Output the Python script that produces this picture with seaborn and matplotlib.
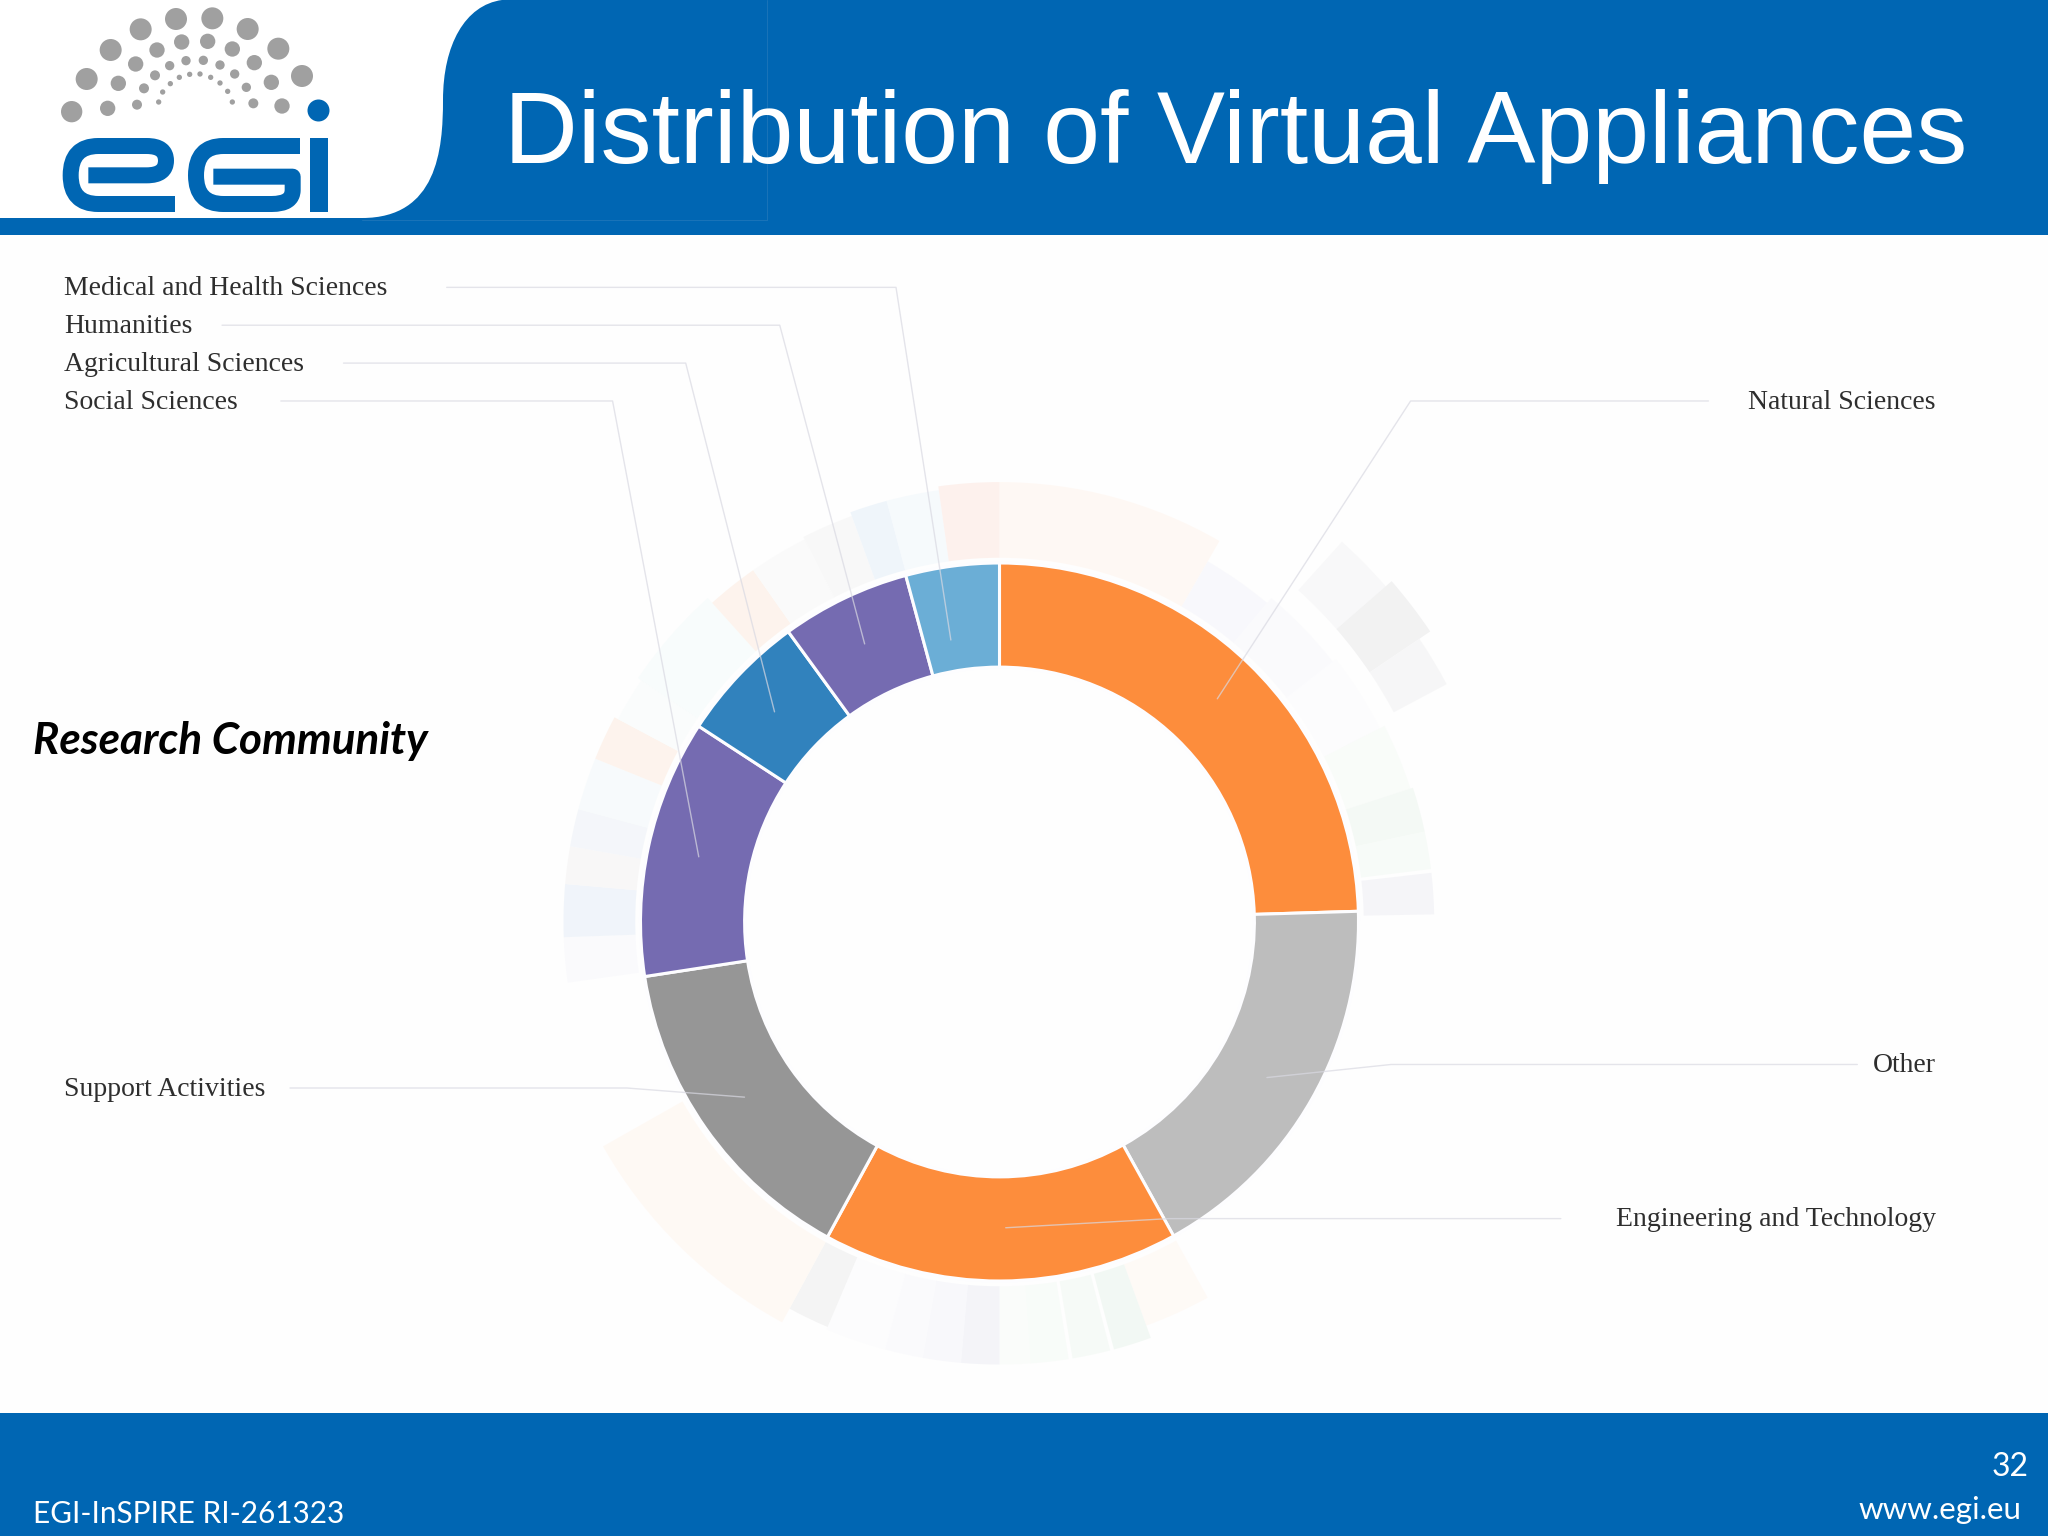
import numpy as np
import matplotlib
matplotlib.use("Agg")
import matplotlib.pyplot as plt
from matplotlib.patches import Rectangle, PathPatch
from matplotlib.path import Path
import seaborn as sns

# ---------- data ----------
categories = ["Natural Sciences", "Other", "Engineering and Technology", "Support Activities",
              "Social Sciences", "Agricultural Sciences", "Humanities", "Medical and Health Sciences"]
shares = [24.5, 17.4, 16.0, 14.6, 11.6, 5.8, 5.8, 4.2]
ring_colors = ["#fd8d3c", "#bdbdbd", "#fd8d3c", "#969696", "#756bb1", "#3182bd", "#756bb1", "#6baed6"]

# faint outer ring (hidden drill-down level): start angle, span, length, colour
sub_start = [0, 30, 40, 52, 63, 72, 78, 83.5,
             151, 160, 165.5, 171, 176, 180, 185, 190, 195, 203,
             208.5, 262, 268, 275, 280, 285, 292, 298,
             304, 318, 325, 333, 340, 345, 352]
sub_span = [30, 10, 12, 11, 9, 6, 5, 5.5,
            9, 5, 5, 5, 4, 5, 5, 5, 8, 5.5,
            32, 6, 7, 5, 5, 7, 6, 6,
            14, 7, 8, 7, 5, 7, 8]
sub_len = [58, 40, 45, 48, 52, 54, 54, 54,
           50, 60, 60, 60, 60, 60, 60, 60, 60, 58,
           70, 55, 55, 55, 55, 55, 55, 52,
           55, 50, 50, 52, 55, 55, 58]
sub_col = ["#fef6ef", "#f6f6fb", "#f9f9fc", "#fbfbfd", "#f7fbf7", "#f0f7f1", "#f4faf5", "#f1f1f6",
           "#fef8f3", "#edf6ef", "#f3f9f4", "#f6fbf7", "#f9fcf9", "#eff0f6", "#f5f5fa", "#f9f9fc", "#fbfbfd", "#efefef",
           "#fef7f0", "#f8f8fc", "#e9f0f8", "#f6f4f4", "#eff3f8", "#f4f9fb", "#fdeee4", "#f8fcfc",
           "#f5fbfb", "#fdeee4", "#f9f9f9", "#f6f6f6", "#e8f1f9", "#f2f8fc", "#fdebe5"]
top_start = [42, 49, 56]
top_span = [7, 7, 6]
top_len = [50, 56, 46]
top_col = ["#f6f6f7", "#ededee", "#f4f4f5"]

label_names = ["Medical and Health Sciences", "Humanities", "Agricultural Sciences", "Social Sciences",
               "Natural Sciences", "Other", "Engineering and Technology", "Support Activities"]
title_text = "Distribution of Virtual Appliances"
side_text = "Research Community"
footer_left = "EGI-InSPIRE RI-261323"
footer_right = "www.egi.eu"
page_number = "32"

BLUE = "#0066b3"
W, H = 2048, 1536
CX, CY, R = 999.5, 922.0, 359.0

sns.set_theme(style="white")
plt.rcParams["font.family"] = ["Liberation Sans", "DejaVu Sans"]

fig = plt.figure(figsize=(W / 100, H / 100), dpi=100, facecolor="#fefefe")


def place(half):
    return [(CX - half) / W, 1 - (CY + half) / H, 2 * half / W, 2 * half / H]


# faint drill-down ring
RMAX = 440.0
pax = fig.add_axes(place(R * RMAX / 275.0), projection="polar")
pax.set_theta_zero_location("N")
pax.set_theta_direction(-1)
pax.bar(np.radians(sub_start), sub_len, width=np.radians(sub_span), bottom=279,
        align="edge", color=sub_col, linewidth=0, alpha=0.65)
pax.bar(np.radians(top_start), top_len, width=np.radians(top_span), bottom=342,
        align="edge", color=top_col, linewidth=0, alpha=0.7)
pax.set_ylim(0, RMAX)
pax.set_axis_off()
pax.patch.set_alpha(0)

# main ring
ax = fig.add_axes(place(R))
ax.pie(shares, colors=ring_colors, startangle=90, counterclock=False, radius=1,
       wedgeprops=dict(width=0.29, edgecolor="#fdfdff", linewidth=2.2))
ax.set_xlim(-1, 1)
ax.set_ylim(-1, 1)
ax.patch.set_alpha(0)

# slide furniture and annotations, in pixel space
ov = fig.add_axes([0, 0, 1, 1])
ov.set_xlim(0, W)
ov.set_ylim(H, 0)
ov.set_axis_off()
ov.patch.set_alpha(0)

ov.add_patch(Rectangle((0, 0), W, 235, color=BLUE, lw=0))
ov.add_patch(Rectangle((0, 1413), W, 123, color=BLUE, lw=0))

# white logo tab with its curved edge
tab = Path([(0, 0), (502, 0), (465, 5), (443, 45), (443, 100), (443, 150), (437, 218), (362, 218), (0, 218), (0, 0)],
           [Path.MOVETO, Path.LINETO, Path.CURVE4, Path.CURVE4, Path.LINETO, Path.CURVE4, Path.CURVE4, Path.CURVE4,
            Path.LINETO, Path.CLOSEPOLY])
ov.add_patch(PathPatch(tab, facecolor="white", edgecolor="none"))
ov.plot([767, 767], [0, 220], color="#1a74b9", lw=0.7)
ov.plot([362, 767], [220, 220], color="#1a74b9", lw=0.7)

# logo dots (3x crop coordinates)
dots = [(215, 335, 32), (260, 237, 33), (332, 150, 33), (422, 88, 33), (528, 57, 33), (637, 55, 33), (743, 87, 33),
        (835, 146, 33), (906, 228, 33),
        (323, 325, 23), (355, 250, 23), (407, 192, 23), (471, 150, 23), (545, 126, 23), (623, 124, 23),
        (697, 147, 23), (763, 188, 23), (814, 247, 23), (846, 318, 23),
        (411, 314, 15), (432, 265, 15), (465, 226, 15), (509, 197, 14), (558, 182, 14), (610, 181, 14),
        (660, 195, 14), (704, 222, 14), (739, 262, 14), (760, 310, 15),
        (476, 306, 8), (488, 276, 8), (511, 251, 8), (538, 232, 8), (569, 223, 8), (600, 222, 8),
        (632, 232, 8), (660, 249, 8), (683, 274, 8), (697, 306, 8)]
dx, dy, dr = np.array(dots, dtype=float).T / 3
ov.scatter(dx, dy, s=(2 * dr * 0.72) ** 2, color="#a0a0a0", linewidths=0)
ov.scatter([953 / 3], [330 / 3], s=(2 * 11 * 0.72) ** 2, color=BLUE, linewidths=0)


def stroke(points, codes, lw):
    p = Path(np.array(points, dtype=float) / 3, codes)
    ov.add_patch(PathPatch(p, facecolor="none", edgecolor=BLUE, lw=lw * 0.72, capstyle="butt", joinstyle="round"))


M, L, Q = Path.MOVETO, Path.LINETO, Path.CURVE3
stroke([(525, 612), (295, 612), (212, 612), (212, 526), (212, 438), (295, 438), (440, 438), (498, 438), (498, 482),
        (498, 526), (440, 526), (265, 526)],
       [M, L, Q, Q, Q, Q, L, Q, Q, Q, Q, L], 16)
stroke([(900, 438), (670, 438), (588, 438), (588, 526), (588, 612), (670, 612), (815, 612), (878, 612), (878, 570),
        (878, 530), (640, 530)],
       [M, L, Q, Q, Q, Q, L, Q, Q, L, L], 16)
stroke([(957, 415), (957, 635)], [M, L], 18)

# leader lines
s = 2048 / 1568
leaders = [[(342, 220), (686, 220), (728, 490)], [(170, 249), (597, 249), (662, 493)],
           [(263, 278), (525, 278), (593, 545)], [(215, 307), (469, 307), (535, 656)],
           [(1308, 307), (1080, 307), (932, 535)], [(1422, 815), (1065, 815), (970, 825)],
           [(1195, 933), (895, 933), (770, 940)], [(222, 833), (480, 833), (570, 840)]]
for pts in leaders:
    xs, ys = np.array(pts, dtype=float).T * s
    ov.plot(xs, ys, color="#d9d9e2", lw=1.0, alpha=0.7)

# labels
anchors = [(49, 221, "left"), (49, 250, "left"), (49, 279, "left"), (49, 308, "left"),
           (1482, 308, "right"), (1482, 816, "right"), (1482, 934, "right"), (49, 834, "left")]
for name, (x, y, ha) in zip(label_names, anchors):
    ov.text(x * s, y * s, name, ha=ha, va="center", fontsize=20, color="#2e2e2e", family="Liberation Serif")

ov.text(504, 136, title_text, ha="left", va="center", color="white", fontsize=73.5, family="Liberation Sans")
ov.text(33, 741, side_text, ha="left", va="center", color="black", fontsize=31.7, family="Lato",
        fontweight="bold", fontstyle="italic")
ov.text(33, 1514, footer_left, ha="left", va="center", color="white", fontsize=21.4, family="Lato")
ov.text(2021, 1510, footer_right, ha="right", va="center", color="white", fontsize=22.6, family="Lato")
ov.text(2029, 1467, page_number, ha="right", va="center", color="white", fontsize=23, family="Lato")

fig.savefig("out.png", dpi=100, facecolor=fig.get_facecolor())
